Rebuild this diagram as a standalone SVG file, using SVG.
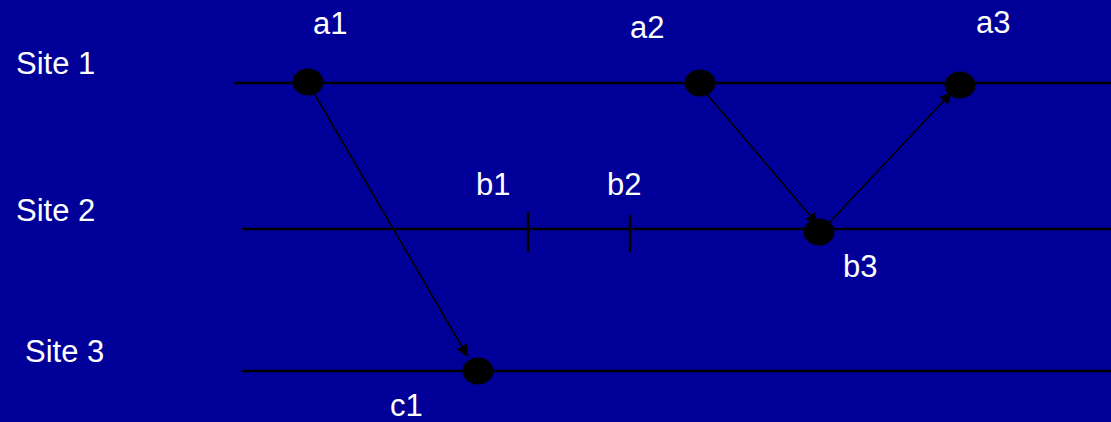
<svg xmlns="http://www.w3.org/2000/svg" width="1111" height="422" viewBox="0 0 1111 422">
<style>
.lbl{font-family:"Liberation Sans",Arial,sans-serif;font-size:31px;fill:#ffffff}
.tl{stroke:#000;stroke-width:2.5;fill:none}
.ev{fill:#000}
.msg{stroke:#000;stroke-width:1.6;fill:none;marker-end:url(#ah)}
</style>
<defs>
<marker id="ah" viewBox="0 0 10 10" refX="10" refY="5" markerWidth="14" markerHeight="12" markerUnits="userSpaceOnUse" orient="auto">
<path d="M0,0 L10,5 L0,10 z" fill="#000"/>
</marker>
</defs>
<rect width="1111" height="422" fill="#000099"/>
<g id="site1"><text class="lbl" x="16" y="74">Site 1</text><line class="tl" x1="234" y1="83" x2="1111" y2="83"/></g>
<g id="site2"><text class="lbl" x="16" y="221">Site 2</text><line class="tl" x1="242" y1="229" x2="1111" y2="229"/></g>
<g id="site3"><text class="lbl" x="25" y="362">Site 3</text><line class="tl" x1="241" y1="371" x2="1111" y2="371"/></g>
<g id="connectors">
<line class="msg" x1="314" y1="93" x2="468" y2="357"/>
<line class="msg" x1="706" y1="93" x2="818" y2="225"/>
<line class="msg" x1="828" y1="224" x2="952" y2="92"/>
</g>
<g id="a1"><ellipse class="ev" cx="308" cy="82" rx="15.5" ry="13.5"/><text class="lbl" x="313" y="34">a1</text></g>
<g id="a2"><ellipse class="ev" cx="700" cy="83" rx="15.5" ry="13.5"/><text class="lbl" x="630" y="38">a2</text></g>
<g id="a3"><ellipse class="ev" cx="960" cy="85" rx="15.5" ry="13.5"/><text class="lbl" x="976" y="33">a3</text></g>
<g id="b1"><line class="tl" x1="528" y1="212" x2="528" y2="252" stroke-width="2"/><text class="lbl" x="476" y="195">b1</text></g>
<g id="b2"><line class="tl" x1="630" y1="215" x2="630" y2="252" stroke-width="2"/><text class="lbl" x="607" y="195">b2</text></g>
<g id="b3"><ellipse class="ev" cx="819" cy="232" rx="15.5" ry="13.5"/><text class="lbl" x="843" y="277">b3</text></g>
<g id="c1"><ellipse class="ev" cx="478" cy="371" rx="15.5" ry="13.5"/><text class="lbl" x="390" y="416">c1</text></g>
</svg>
